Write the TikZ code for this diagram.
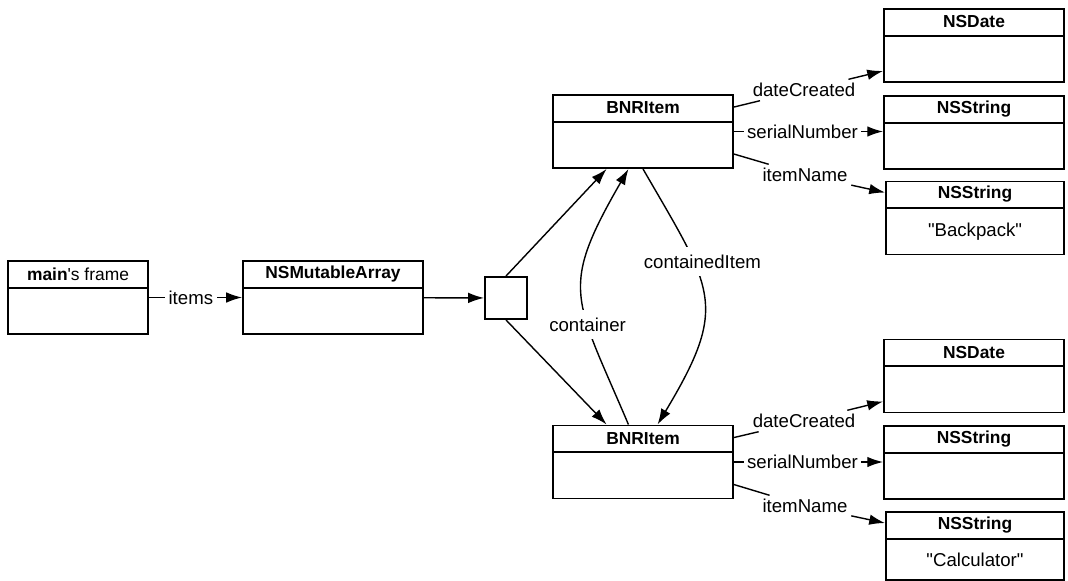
\documentclass[tikz,border=0pt]{standalone}
\usepackage{fontspec}
\setmainfont{Liberation Sans}
\usetikzlibrary{calc, arrows.meta}

\newcommand{\lblsize}{\fontsize{10.6}{12}\selectfont}
\newcommand{\ttlsize}{\fontsize{9.9}{11}\selectfont\bfseries}

\tikzset{
	objbox/.style={draw, line width=1.1pt, minimum width=3.6cm, minimum height=1.46cm, inner sep=0pt},
	objtitle/.style={anchor=north, minimum height=0.54cm, inner sep=0pt, font=\ttlsize},
	objbody/.style={font=\lblsize},
	ptr/.style={line width=0.8pt, -{Latex[length=9pt,width=6pt]}},
	ptrline/.style={line width=0.8pt},
	lbl/.style={fill=white, inner sep=2pt, font=\lblsize},
	tag/.style={inner sep=2pt, font=\lblsize}
}

% box with a bold title row: [options]{name}{position}{title}{body}
\newcommand{\objbox}[5][]{%
	\node[objbox,#1] (#2) at (#3) {};
	\node[objtitle] (#2-t) at (#2.north) {#4};
	\draw[line width=1.1pt] (#2-t.south -| #2.west) -- (#2-t.south -| #2.east);
	\node[objbody] (#2-b) at ($(#2-t.south)!0.5!(#2.south)$) {#5};
}

\begin{document}
\begin{tikzpicture}[x=0.02cm, y=-0.02cm]
	\useasboundingbox (0,0) rectangle (1068,581);

	% frame, array and its slot
	\objbox[minimum width=2.8cm]{frame}{78,297.5}{main\mdseries\textquotesingle s frame}{}
	\objbox{array}{333,297.5}{NSMutableArray}{}
	\node[draw, line width=1.1pt, minimum size=0.84cm] (slot) at (506,298) {};

	% the two items
	\objbox{itemA}{643,131.5}{BNRItem}{}
	\objbox{itemB}{643,462}{BNRItem}{}

	% objects the items point to
	\objbox{dateA}{974,45.5}{NSDate}{}
	\objbox{serialA}{974,132.5}{NSString}{}
	\objbox[minimum width=3.56cm]{nameA}{975,218}{NSString}{\textquotedbl Backpack\textquotedbl}
	\objbox{dateB}{974,376}{NSDate}{}
	\objbox{serialB}{974,462.5}{NSString}{}
	\objbox[minimum width=3.56cm, minimum height=1.36cm]{nameB}{975,546}{NSString}{\textquotedbl Calculator\textquotedbl}

	\draw[ptr] (frame) -- node[lbl, pos=0.45] {items} (array);
	\draw[ptr] (array) -- (slot);
	\draw[ptr] (slot.north) -- ($(itemA.south west)!0.3!(itemA.south east)$);
	\draw[ptr] (slot.south) -- ($(itemB.north west)!0.3!(itemB.north east)$);

	% links between the items
	\draw[ptr] ($(itemB.north west)!0.42!(itemB.north east)$)
		to[out=113, in=240, looseness=1.4] node[lbl, inner sep=4.5pt, pos=0.35] {container}
		($(itemA.south west)!0.42!(itemA.south east)$);
	\draw[ptr] ($(itemA.south west)!0.5!(itemA.south east)$)
		to[out=-60, in=59, looseness=1.4] node[lbl, inner sep=4.5pt, pos=0.33, xshift=5pt] {containedItem}
		($(itemB.north west)!0.58!(itemB.north east)$);

	% first item
	\node[tag] (dcA) at (804,90) {dateCreated};
	\draw[ptrline] ($(itemA.north east)+(0,13)$) -- (dcA);
	\draw[ptr] (dcA) -- ($(dateA.south west)+(0,-12)$);
	\draw[ptr] (itemA.east) -- node[lbl, pos=0.46] {serialNumber} (itemA.east -| serialA.west);
	\node[tag] (inA) at (805,175) {itemName};
	\draw[ptrline] ($(itemA.north east)+(0,60)$) -- (inA);
	\draw[ptr] (inA) -- ($(nameA.north west)+(0,12)$);

	% second item
	\node[tag] (dcB) at (804,421) {dateCreated};
	\draw[ptrline] ($(itemB.north east)+(0,13)$) -- (dcB);
	\draw[ptr] (dcB) -- ($(dateB.south west)+(0,-12)$);
	\draw[ptr] (itemB.east) -- node[lbl, pos=0.46] {serialNumber} (itemB.east -| serialB.west);
	\node[tag] (inB) at (805,506) {itemName};
	\draw[ptrline] ($(itemB.north east)+(0,60)$) -- (inB);
	\draw[ptr] (inB) -- ($(nameB.north west)+(0,12)$);
\end{tikzpicture}
\end{document}
